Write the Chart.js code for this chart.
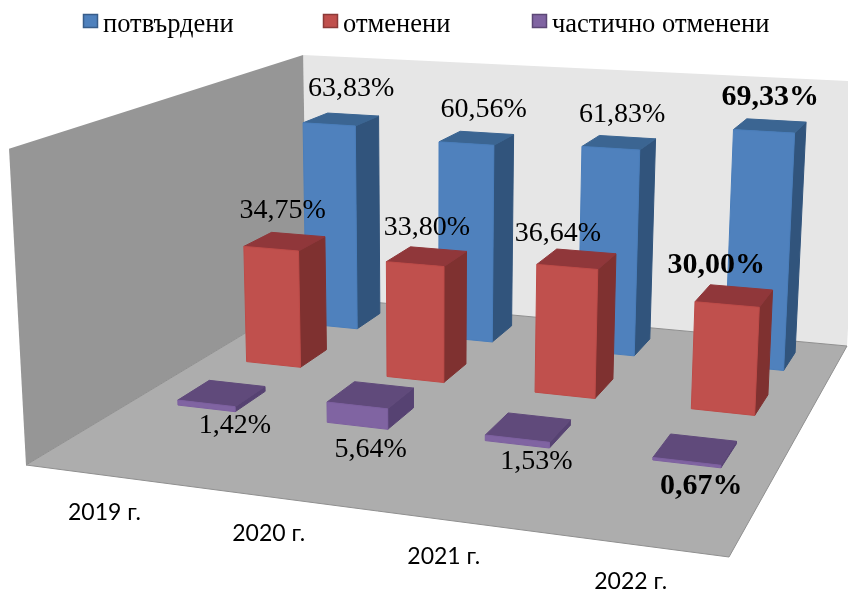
<!DOCTYPE html>
<html>
<head>
<meta charset="utf-8">
<title>3D bars</title>
<script src="https://cdn.jsdelivr.net/npm/chart.js@4/dist/chart.umd.min.js"></script>
<style>
    html, body { margin: 0; padding: 0; background: #fff; }
    #wrap { width: 848px; height: 592px; }
</style>
</head>
<body>
<div id="wrap"><canvas id="chart"></canvas></div>
<script>
// ---------------- DATA ----------------
const years = ["2019 г.", "2020 г.", "2021 г.", "2022 г."];
const seriesNames = ["потвърдени", "отменени", "частично отменени"];
const confirmed = [63.83, 60.56, 61.83, 69.33];
const cancelled = [34.75, 33.80, 36.64, 30.00];
const partly = [1.42, 5.64, 1.53, 0.67];
const axisMax = 80;

// ---------------- STYLE ----------------
const faces = [
    { front: "#4F81BD", top: "#3B6592", side: "#31547C", line: "#4A7EBB", box: "#385D8A" },
    { front: "#C0504D", top: "#90373A", side: "#7F3130", line: "#BE4B48", box: "#8C3A38" },
    { front: "#8064A2", top: "#604A7B", side: "#564272", line: "#7D60A0", box: "#5C4776" }
];
// hand placed data labels in the original, offset from the middle of the bar top
const labelShift = [
    [[10, -31], [7, -28], [3, -28], [0, -29]],
    [[-2, -31], [0, -29], [-19, -25], [-18, -31]],
    [[13, 32], [0, 55], [8, 34], [6, 37]]
];
const boldYear = [false, false, false, true];
const legendBoxX = [83, 323, 532];
const depthSlots = 4; // the source chart leaves room for a 4th row
const barDepth = 0.055;

// floor corners: back left, back right, front right, front left
const floor = [[307, 296], [847, 346], [729, 557], [26, 465]];
const vanish = [430, 8000];
const wallTopY = 55;

// ---------------- PROJECTION ----------------
function makeProjection() {
    const [p0, p1, p2, p3] = floor;
    const dx1 = p1[0] - p2[0], dx2 = p3[0] - p2[0], sx = p0[0] - p1[0] + p2[0] - p3[0];
    const dy1 = p1[1] - p2[1], dy2 = p3[1] - p2[1], sy = p0[1] - p1[1] + p2[1] - p3[1];
    const det = dx1 * dy2 - dx2 * dy1;
    const g = (sx * dy2 - dx2 * sy) / det;
    const h = (dx1 * sy - sx * dy1) / det;
    const a = p1[0] - p0[0] + g * p1[0], b = p3[0] - p0[0] + h * p3[0], c = p0[0];
    const d = p1[1] - p0[1] + g * p1[1], e = p3[1] - p0[1] + h * p3[1], f = p0[1];
    const k = (wallTopY - f) / (vanish[1] - wallTopY);

    return (u, v, w) => {
        const den = g * u + h * v + 1 + k * w;
        return [
            (a * u + b * v + c + k * vanish[0] * w) / den,
            (d * u + e * v + f + k * vanish[1] * w) / den
        ];
    };
}
const project = makeProjection();

function poly(ctx, pts, fill, stroke) {
    ctx.beginPath();
    pts.forEach((p, i) => i ? ctx.lineTo(p[0], p[1]) : ctx.moveTo(p[0], p[1]));
    ctx.closePath();
    ctx.fillStyle = fill;
    ctx.fill();
    if (stroke) {
        ctx.strokeStyle = stroke;
        ctx.lineWidth = 1;
        ctx.stroke();
    }
}

// ---------------- WALLS ----------------
function drawWalls(ctx) {
    poly(ctx, [project(0, 0, 0), project(1, 0, 0), project(1, 0, 1), project(0, 0, 1)], "#E6E6E6");
    poly(ctx, [project(0, 1, 0), project(0, 0, 0), project(0, 0, 1), project(0, 1, 1)], "#969696");
    poly(ctx, [project(0, 0, 0), project(1, 0, 0), project(1, 1, 0), project(0, 1, 0)], "#ADADAD", "#8F8F8F");
}

// ---------------- BARS ----------------
function drawBar(ctx, chart, el, row, style) {
    const area = chart.chartArea;
    const u0 = (el.x - el.width / 2 - area.left) / area.width;
    const u1 = (el.x + el.width / 2 - area.left) / area.width;
    const w = (area.bottom - el.y) / area.height;
    const vf = (row + 0.5) / depthSlots + barDepth;
    const vb = (row + 0.5) / depthSlots - barDepth;

    poly(ctx, [project(u1, vf, 0), project(u1, vb, 0), project(u1, vb, w), project(u1, vf, w)], style.side, style.side);
    poly(ctx, [project(u0, vf, w), project(u1, vf, w), project(u1, vb, w), project(u0, vb, w)], style.top, style.top);
    poly(ctx, [project(u0, vf, 0), project(u1, vf, 0), project(u1, vf, w), project(u0, vf, w)], style.front, style.line);
}

function drawBarLabels(ctx, chart) {
    const area = chart.chartArea;
    ctx.textAlign = "center";
    ctx.textBaseline = "middle";
    ctx.fillStyle = "#000";
    chart.data.datasets.forEach((ds, row) => {
        chart.getDatasetMeta(row).data.forEach((el, i) => {
            const u = (el.x - area.left) / area.width;
            const w = (area.bottom - el.y) / area.height;
            const p = project(u, (row + 0.5) / depthSlots, w);
            const shift = labelShift[row][i];
            ctx.font = boldYear[i] ? "bold 30px 'Liberation Serif'" : "28px 'Liberation Serif'";
            ctx.fillText(ds.data[i].toFixed(2).replace(".", ",") + "%", p[0] + shift[0], p[1] + shift[1]);
        });
    });
}

// ---------------- YEARS + LEGEND ----------------
function drawYears(ctx, chart) {
    const x = chart.scales.x;
    ctx.font = "23px Lato";
    ctx.textAlign = "center";
    ctx.textBaseline = "middle";
    ctx.fillStyle = "#000";
    years.forEach((year, i) => {
        const u = (x.getPixelForValue(i) - chart.chartArea.left) / chart.chartArea.width;
        const p = project(u, 1, 0);
        ctx.fillText(x.getLabelForValue(i), p[0], p[1] + 37);
    });
}

function drawLegend(ctx, chart) {
    ctx.font = "26.5px 'Liberation Serif'";
    ctx.textAlign = "left";
    ctx.textBaseline = "alphabetic";
    chart.data.datasets.forEach((ds, i) => {
        const x = legendBoxX[i];
        ctx.fillStyle = faces[i].front;
        ctx.fillRect(x + 0.5, 14.5, 14, 13);
        ctx.strokeStyle = faces[i].box;
        ctx.lineWidth = 1.5;
        ctx.strokeRect(x + 0.5, 14.5, 14, 13);
        ctx.fillStyle = "#000";
        ctx.fillText(ds.label, x + 20, 32);
    });
}

const scene3d = {
    id: "scene3d",
    beforeDatasetsDraw(chart) {
        const ctx = chart.ctx;
        ctx.save();
        drawWalls(ctx);
        chart.data.datasets.forEach((ds, row) => {
            chart.getDatasetMeta(row).data.forEach(el => drawBar(ctx, chart, el, row, faces[row]));
        });
        drawBarLabels(ctx, chart);
        drawYears(ctx, chart);
        drawLegend(ctx, chart);
        ctx.restore();
        return false; // flat bars are replaced by the boxes above
    }
};

// ---------------- CHART ----------------
new Chart(document.getElementById("chart"), {
    type: "bar",
    data: {
        labels: years,
        datasets: [
            { label: seriesNames[0], data: confirmed, backgroundColor: faces[0].front },
            { label: seriesNames[1], data: cancelled, backgroundColor: faces[1].front },
            { label: seriesNames[2], data: partly, backgroundColor: faces[2].front }
        ]
    },
    options: {
        responsive: true,
        maintainAspectRatio: false,
        animation: false,
        layout: { padding: 0 },
        datasets: { bar: { grouped: false, barPercentage: 0.39, categoryPercentage: 1 } },
        scales: {
            x: { display: false },
            y: { display: false, min: 0, max: axisMax }
        },
        plugins: { legend: { display: false }, tooltip: { enabled: false } }
    },
    plugins: [scene3d]
});
</script>
</body>
</html>
